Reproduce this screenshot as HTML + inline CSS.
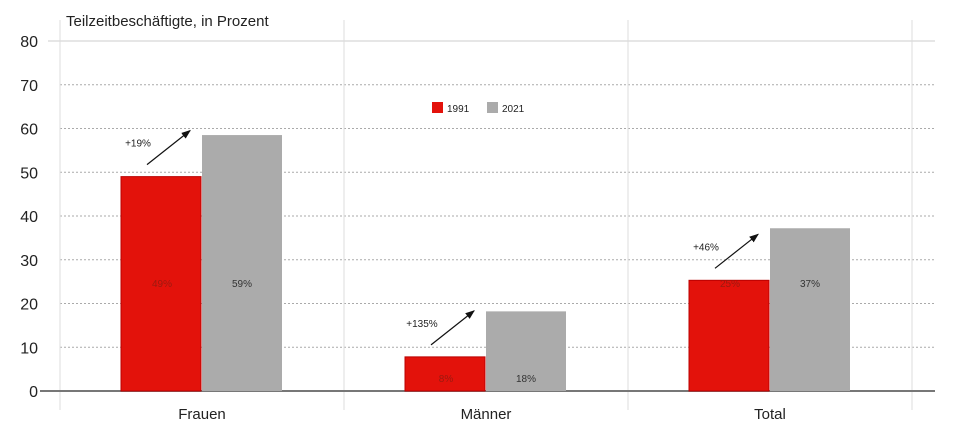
<!DOCTYPE html>
<html><head><meta charset="utf-8"><style>
body{margin:0;background:#fff;}
svg{display:block;font-family:"Liberation Sans",sans-serif;}
</style></head><body>
<svg id="c" width="960" height="425">
<defs><marker id="ah" markerWidth="8" markerHeight="8" refX="7" refY="4" orient="auto"><path d="M0,1 L8,4 L0,7 z" fill="#111"/></marker></defs>
</svg>
<script>
const categories=["Frauen","Männer","Total"];
const v1991=[49,7.8,25.3];
const v2021=[58.5,18.2,37.2];
const labels1991=["49%","8%","25%"];
const labels2021=["59%","18%","37%"];
const changeLabels=["+19%","+135%","+46%"];
const yTicks=[0,10,20,30,40,50,60,70,80];
const svg=document.getElementById('c');
const NS='http://www.w3.org/2000/svg';
function y(v){return 391-v*4.375;}
const x0=60,catW=284;
function mk(t,a,p){const e=document.createElementNS(NS,t);for(const k in a)e.setAttribute(k,a[k]);(p||svg).appendChild(e);return e;}
yTicks.forEach(t=>{
 const l=mk('line',{x1:t==80?48:60,x2:935,y1:y(t),y2:y(t),stroke:t==80?'#ccc':'#aaa','stroke-width':1,'stroke-dasharray':(t==0||t==80)?'':'2,2'});
 
 
 const tx=mk('text',{x:38,y:y(t)+6,'text-anchor':'end','font-size':16,fill:'#222'});
 tx.textContent=t;
 
 
});
[0,1,2,3].forEach(i=>{
 const l=mk('line',{x1:x0+i*catW,x2:x0+i*catW,y1:20,y2:410,stroke:'#ddd','stroke-width':1});
 
 
});
mk('line',{x1:40,x2:935,y1:391,y2:391,stroke:'#777','stroke-width':2});
const title=mk('text',{x:66,y:26,'font-size':15,fill:'#222'});
title.textContent='Teilzeitbeschäftigte, in Prozent';


categories.forEach((c,i)=>{
 const cx=x0+i*catW+catW/2;
 const bw=80;
 const r=mk('rect',{x:cx-bw-1,y:y(v1991[i]),width:bw,height:391-y(v1991[i]),fill:'#e3120b',stroke:'#b00','stroke-width':1});
 
 
 const g=mk('rect',{x:cx,y:y(v2021[i]),width:bw,height:391-y(v2021[i]),fill:'#ababab'});
 
 
 const ly=y(v1991[i])>300?382:287;
 const t1=mk('text',{x:cx-bw/2,y:ly,'text-anchor':'middle','font-size':10,fill:'#9a1a10'});
 t1.textContent=labels1991[i];
 
 
 const t2=mk('text',{x:cx+bw/2,y:ly,'text-anchor':'middle','font-size':10,fill:'#333'});
 t2.textContent=labels2021[i];
 
 
 const ay=y(v1991[i])-12;
 const a=mk('line',{x1:cx-55,y1:ay,x2:cx-12,y2:ay-34,stroke:'#111','stroke-width':1.2,'marker-end':'url(#ah)'});
 
 
 const ct=mk('text',{x:cx-64,y:ay-18,'text-anchor':'middle','font-size':10,fill:'#222'});
 ct.textContent=changeLabels[i];
 
 
 const cl=mk('text',{x:cx,y:419,'text-anchor':'middle','font-size':15,fill:'#222'});
 cl.textContent=c;
 
 
});
const lg=[['#e3120b','1991',432],['#ababab','2021',487]];
lg.forEach(l=>{
 const r=mk('rect',{x:l[2],y:102,width:11,height:11,fill:l[0]});
 
 
 const t=mk('text',{x:l[2]+15,y:112,'font-size':10,fill:'#222'});
 t.textContent=l[1];
 
 
});
</script>
</body></html>
